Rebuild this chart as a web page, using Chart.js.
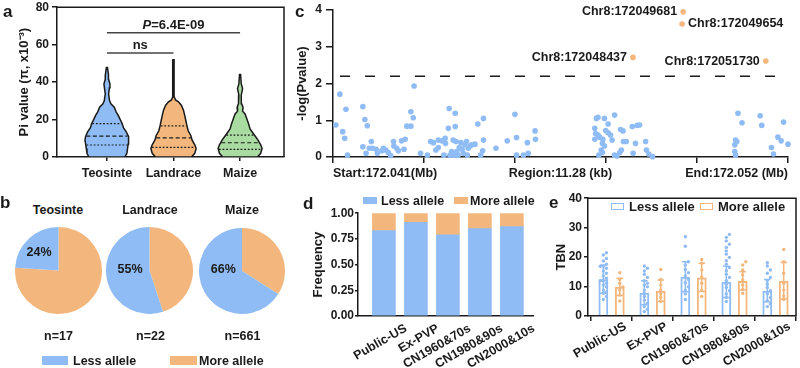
<!DOCTYPE html>
<html>
<head>
<meta charset="utf-8">
<script src="https://cdn.jsdelivr.net/npm/chart.js@4.4.1/dist/chart.umd.min.js"></script>
<style>
  body { margin: 0; width: 800px; height: 368px; overflow: hidden; position: relative; background: #fff;
         font-family: 'Liberation Sans', Arial, sans-serif; color: #1a1a1a; }
  .panel { position: absolute; }
  .txt { position: absolute; line-height: 1; font-weight: bold; white-space: nowrap; }
  .key { position: absolute; box-sizing: border-box; }
</style>
</head>
<body>
<div class="panel" style="left:0;top:-3px;width:292px;height:193px"><canvas id="violinChart"></canvas></div>
<div class="panel" style="left:286px;top:-2px;width:514px;height:192px"><canvas id="manhattanChart"></canvas></div>
<div class="panel" style="left:15px;top:227px;width:87px;height:87px"><canvas id="pie0"></canvas></div>
<div class="panel" style="left:106px;top:227px;width:87px;height:87px"><canvas id="pie1"></canvas></div>
<div class="panel" style="left:199px;top:228px;width:86px;height:86px"><canvas id="pie2"></canvas></div>
<div class="panel" style="left:292px;top:205px;width:246px;height:163px"><canvas id="freqChart"></canvas></div>
<div class="panel" style="left:540px;top:189px;width:260px;height:179px"><canvas id="tbnChart"></canvas></div>

<script>
// ---- panel a: Pi values (violins) ----
const groups = ['Teosinte', 'Landrace', 'Maize'];
const teosinteLevels = [0, 2, 4.6, 7, 9, 11, 13.4, 15.5, 17.8, 20, 22.2, 24, 26.6, 28.4, 30, 33.7, 37, 39, 41.5, 44, 47.8];
const teosinteWidth  = [0.27, 0.30, 0.31, 0.32, 0.33, 0.32, 0.29, 0.25, 0.23, 0.20, 0.17, 0.14, 0.11, 0.06, 0.04, 0.025, 0.038, 0.045, 0.025, 0.023, 0.008];
const landraceLevels = [0, 2, 4.5, 6.5, 9, 11.5, 14, 17, 19.5, 22, 25, 27.5, 29.5, 30.5, 32, 52];
const landraceWidth  = [0.27, 0.32, 0.34, 0.32, 0.28, 0.26, 0.22, 0.20, 0.185, 0.17, 0.15, 0.12, 0.075, 0.03, 0.012, 0.009];
const maizeLevels = [0, 2, 4.5, 6.5, 9, 11.5, 13.5, 15, 17.5, 20.5, 23, 24.5, 26.5, 28.5, 33, 36.5, 39, 44];
const maizeWidth  = [0.26, 0.31, 0.33, 0.31, 0.27, 0.22, 0.18, 0.15, 0.13, 0.10, 0.075, 0.038, 0.045, 0.023, 0.018, 0.038, 0.018, 0.008];
const quartiles = [[6.4, 11.1, 17.8], [5.1, 10.2, 16.6], [4.1, 7.6, 11.7]]; // Q1, median, Q3
const brackets = [[1, 2, 55.6, 'ns'], [1, 3, 66.3, 'P=6.4E-09']];

// ---- panel b: allele share ----
const lessPct = [24, 55, 66];
const sampleSizes = [17, 22, 661];

// ---- panel c: association scan ----
const regionStart = 172041000;
const regionKb = 11.28;
const threshold = 2.2;
const cTickLabels = ['Start:172.041(Mb)', 'Region:11.28 (kb)', 'End:172.052 (Mb)'];
const snpKb = [0.07, 0.17, 0.24, 0.29, 0.32, 0.36, 0.74, 0.74, 0.79, 0.82, 0.85, 0.90, 0.95, 0.98,
  1.07, 1.10, 1.21, 1.25, 1.31, 1.37, 1.43, 1.50, 1.51, 1.58, 1.62, 1.70, 1.76, 1.79, 1.83, 1.93, 1.93, 1.99,
  2.01, 2.17, 2.34, 2.42, 2.49, 2.55, 2.61, 2.61, 2.70, 2.75, 2.78, 2.79, 2.86, 2.88, 2.90, 2.94, 2.98,
  3.00, 3.03, 3.03, 3.05, 3.07, 3.10, 3.13, 3.17, 3.20, 3.23, 3.27, 3.31, 3.33, 3.35, 3.40, 3.44, 3.52, 3.59, 3.66, 3.71, 3.73, 3.73,
  4.04, 4.32, 4.51, 4.55, 4.55, 4.72, 4.82, 4.84, 5.01, 5.02,
  6.53, 6.57, 6.73, 6.98, 6.82, 6.49, 6.51, 6.57, 6.49, 6.61, 6.69, 6.76, 6.82, 6.88, 6.92, 6.68, 6.73, 6.65, 6.68, 6.59,
  6.98, 7.04, 7.11, 7.15, 7.13, 7.19, 7.20, 7.27, 7.42, 7.54, 7.60, 7.50, 7.44, 7.75, 7.77, 7.83, 7.92,
  10.04, 10.14, 9.98, 10.01, 9.96, 9.96, 9.98, 10.59, 10.63, 10.87, 10.92, 11.03, 11.11, 11.17, 11.28];
const snpLogP = [0.87, 1.71, 0.69, 0.51, 1.30, 0.05, 1.37, 0.28, 1.02, 0.10, 0.85, 0.24, 0.42, 0.24,
  0.21, 0.10, 0.17, 0.24, 0.19, 0.12, 0.04, 0.42, 0.30, 0.24, 0.17, 0.44, 0.21, 0.48, 0.84, 0.84, 1.23, 1.07,
  1.93, 0.10, 0.05, 0.42, 0.39, 0.19, 0.46, 0.26, 0.44, 0.05, 0.51, 0.37, 0.78, 1.32, 0.05, 0.15, 0.46,
  0.05, 1.19, 0.83, 0.42, 0.15, 0.05, 0.26, 0.39, 0.21, 0.10, 0.33, 0.42, 0.05, 0.24, 0.30, 0.33, 0.35, 0.90, 0.05, 0.17, 0.46, 1.05,
  0.24, 0.44, 1.16, 0.53, 0.05, 0.05, 0.39, 0.10, 0.71, 0.48,
  1.05, 1.08, 1.05, 1.14, 0.90, 0.78, 0.64, 0.60, 0.48, 0.54, 0.48, 0.72, 0.66, 0.60, 0.46, 0.37, 0.30, 0.19, 0.12, 0.05,
  0.05, 0.03, 0.12, 0.19, 0.75, 0.71, 0.42, 0.42, 0.83, 0.86, 0.87, 0.37, 0.10, 0.42, 0.19, 0.08, 0.01,
  1.19, 0.93, 0.46, 0.42, 0.33, 0.15, 0.05, 1.12, 0.86, 0.26, 0.08, 0.54, 0.44, 0.95, 0.35];
const hitPos = [172048437, 172049681, 172049654, 172051730];
const hitLogP = [2.71, 3.95, 3.62, 2.61];
const hitSide = ['left', 'left', 'right', 'left'];

// ---- panels d and e: cohorts ----
const cohorts = ['Public-US', 'Ex-PVP', 'CN1960&70s', 'CN1980&90s', 'CN2000&10s'];
const lessFreq = [0.83, 0.91, 0.79, 0.85, 0.87];
const moreFreq = [0.17, 0.09, 0.21, 0.15, 0.13];
const tbnLessMean = [12.5, 7.9, 13.3, 11.6, 8.6];
const tbnLessSD = [4.8, 4.1, 5.1, 5.3, 3.8];
const tbnMoreMean = [9.9, 8.6, 13.1, 11.9, 12.0];
const tbnMoreSD = [2.9, 3.6, 4.8, 3.1, 6.2];
const tbnLessDots = [
  [21.5, 20.7, 19.5, 18.7, 17.6, 16.9, 16.9, 16.2, 15.3, 14.5, 13.6, 12.8, 12.0, 12.0, 11.1, 10.5, 9.9, 8.8, 8.2, 7.7, 6.6, 5.6],
  [17, 16.2, 15.3, 14.2, 13.1, 12, 11.1, 10.5, 9.9, 8.8, 7.7, 6.6, 5.4, 4.3, 3.2, 2.3, 1.5],
  [26.9, 23.7, 18.4, 17.3, 15.8, 14.7, 13.6, 12.4, 11.3, 9.9, 8.8, 7.5, 5.6],
  [27.7, 26.7, 25.5, 24.4, 23.3, 22.1, 21, 19.9, 18.8, 17.6, 16.5, 15.4, 14.2, 13.1, 12, 10.8, 9.7, 8.6, 7.5, 6.3, 4.9],
  [18.1, 17, 15.6, 14.5, 13.1, 12, 10.8, 9.7, 8.6, 7.5, 6.3, 5.2, 4.1, 3.2]
];
const tbnMoreDots = [
  [14.7, 12.4, 11.1, 9.9, 8.8, 7.1, 5.1],
  [15.8, 12.4, 10.5, 8.8, 7.5, 6.3, 4.9],
  [19.2, 17.9, 15.6, 13.3, 11.1, 8.8, 6.6],
  [18.4, 17.3, 15.6, 13.9, 12.2, 10.5, 9.0, 7.7],
  [22.6, 18.4, 14.5, 11.1, 8.8, 6.8, 5.6]
];

const BLUE = '#8FBCF4', ORANGE = '#F3B77D', GREEN = '#A9DCA1', INK = '#1a1a1a';
const FONT = "'Liberation Sans', Arial, sans-serif";
const violinColors = [BLUE, ORANGE, GREEN];

Chart.defaults.font.family = FONT;
Chart.defaults.font.size = 12;
Chart.defaults.font.weight = 'bold';
Chart.defaults.color = INK;
Chart.defaults.animation = false;
Chart.defaults.plugins.legend.display = false;
Chart.defaults.plugins.tooltip.enabled = false;

const axisBorder = { color: INK, width: 1.5 };
const tickGrid = (len) => ({ drawOnChartArea: false, tickLength: len, color: INK, lineWidth: 1.5 });

// top and right sides of the plot box
const framePlugin = {
  id: 'frame',
  afterDraw(chart) {
    const { ctx, chartArea: a } = chart;
    ctx.save();
    ctx.strokeStyle = INK;
    ctx.lineWidth = 1.5;
    ctx.beginPath();
    ctx.moveTo(a.left, a.top);
    ctx.lineTo(a.right, a.top);
    ctx.lineTo(a.right, a.bottom);
    ctx.stroke();
    ctx.restore();
  }
};

function widthAt(levels, widths, v) {
  for (let i = 1; i < levels.length; i++) {
    if (v <= levels[i]) {
      const t = (v - levels[i - 1]) / (levels[i] - levels[i - 1]);
      return widths[i - 1] + t * (widths[i] - widths[i - 1]);
    }
  }
  return 0;
}

// ---- panel a ----
const profiles = [[teosinteLevels, teosinteWidth], [landraceLevels, landraceWidth], [maizeLevels, maizeWidth]];
const violinSets = [];
profiles.forEach(([levels, widths], g) => {
  const c = g + 1;
  const right = levels.map((y, i) => ({ x: c + widths[i], y }));
  const left = levels.map((y, i) => ({ x: c - widths[i], y })).reverse();
  violinSets.push({
    data: right.concat(left, [right[0]]),
    showLine: true, fill: 'shape', backgroundColor: violinColors[g],
    borderColor: INK, borderWidth: 1.5, pointRadius: 0, order: 2
  });
});
profiles.forEach(([levels, widths], g) => {
  quartiles[g].forEach((q, k) => {
    const w = widthAt(levels, widths, q) - 0.01;
    violinSets.push({
      data: [{ x: g + 1 - w, y: q }, { x: g + 1 + w, y: q }],
      showLine: true, borderColor: INK, borderWidth: 1.2, pointRadius: 0,
      borderDash: k === 1 ? [4, 2.5] : [1.8, 1.8], order: 1
    });
  });
});
brackets.forEach(([a, b, v]) => {
  violinSets.push({
    data: [{ x: a, y: v }, { x: b, y: v }],
    showLine: true, borderColor: '#444', borderWidth: 1.5, pointRadius: 0, order: 1
  });
});

const bracketText = {
  id: 'bracketText',
  afterDatasetsDraw(chart) {
    const { ctx, scales: { x, y } } = chart;
    ctx.save();
    ctx.fillStyle = INK;
    ctx.textBaseline = 'alphabetic';
    brackets.forEach(([a, b, v, label]) => {
      const cx = (x.getPixelForValue(a) + x.getPixelForValue(b)) / 2;
      const by = y.getPixelForValue(v) - 4;
      const italic = label.startsWith('P=') ? 'P' : '';
      const rest = label.slice(italic.length);
      ctx.font = `italic bold 13px ${FONT}`;
      const wi = italic ? ctx.measureText(italic).width : 0;
      ctx.font = `bold 13px ${FONT}`;
      const wr = ctx.measureText(rest).width;
      let sx = cx - (wi + wr) / 2;
      ctx.textAlign = 'left';
      if (italic) {
        ctx.font = `italic bold 13px ${FONT}`;
        ctx.fillText(italic, sx, by);
        sx += wi;
        ctx.font = `bold 13px ${FONT}`;
      }
      ctx.fillText(rest, sx, by);
    });
    ctx.restore();
  }
};

new Chart(document.getElementById('violinChart'), {
  type: 'scatter',
  data: { datasets: violinSets },
  plugins: [framePlugin, bracketText],
  options: {
    responsive: true, maintainAspectRatio: false,
    layout: { padding: { top: 8, right: 8, left: 0, bottom: 0 } },
    scales: {
      x: {
        type: 'linear', min: 0.25, max: 3.66,
        afterBuildTicks: s => { s.ticks = groups.map((g, i) => ({ value: i + 1 })); },
        ticks: { callback: v => groups[v - 1], font: { size: 12.5 }, padding: 5, maxRotation: 0 },
        grid: tickGrid(4), border: axisBorder,
        afterFit: s => { s.height = 33; }
      },
      y: {
        min: 0, max: 80,
        ticks: { stepSize: 20, padding: 3 },
        grid: tickGrid(5), border: axisBorder,
        title: { display: true, text: 'Pi value (π, x10⁻³)', font: { size: 13 }, padding: { top: 17, bottom: 0 } },
        afterFit: s => { s.width = 57; }
      }
    }
  }
});

// ---- panel c ----
const cTicks = [0, 1, 2, 3, 4, 5].map(i => i * regionKb / 5).concat([regionKb / 2]).sort((a, b) => a - b);
const cLabel = v => v === 0 ? cTickLabels[0] : (v === regionKb / 2 ? cTickLabels[1] : (v === regionKb ? cTickLabels[2] : ''));

const hitLabels = {
  id: 'hitLabels',
  afterDatasetsDraw(chart) {
    const { ctx } = chart;
    const meta = chart.getDatasetMeta(1);
    ctx.save();
    ctx.fillStyle = INK;
    ctx.font = `bold 12.5px ${FONT}`;
    ctx.textBaseline = 'middle';
    meta.data.forEach((pt, i) => {
      const label = 'Chr8:' + hitPos[i];
      if (hitSide[i] === 'left') { ctx.textAlign = 'right'; ctx.fillText(label, pt.x - 6, pt.y); }
      else { ctx.textAlign = 'left'; ctx.fillText(label, pt.x + 6, pt.y); }
    });
    ctx.restore();
  }
};

new Chart(document.getElementById('manhattanChart'), {
  type: 'scatter',
  data: {
    datasets: [
      { data: snpKb.map((x, i) => ({ x, y: snpLogP[i] })), backgroundColor: BLUE, pointRadius: 2.8, borderWidth: 0, clip: false },
      { data: hitPos.map((p, i) => ({ x: (p - regionStart) / 1000, y: hitLogP[i] })), backgroundColor: ORANGE, pointRadius: 2.8, borderWidth: 0, clip: false },
      { data: [{ x: 0, y: threshold }, { x: regionKb, y: threshold }], showLine: true, pointRadius: 0,
        borderColor: INK, borderWidth: 1.5, borderDash: [10, 15], borderDashOffset: 18 }
    ]
  },
  plugins: [hitLabels],
  options: {
    responsive: true, maintainAspectRatio: false,
    layout: { padding: { top: 12, right: 12, left: 0, bottom: 0 } },
    scales: {
      x: {
        type: 'linear', min: 0, max: regionKb,
        afterBuildTicks: s => { s.ticks = cTicks.map(v => ({ value: v })); },
        ticks: { autoSkip: false, maxRotation: 0, minRotation: 0, align: 'inner', padding: 3, font: { size: 12.5 }, callback: v => cLabel(v) },
        grid: { drawOnChartArea: false, tickLength: 6, lineWidth: 1.5, color: INK,
                tickColor: c => (c.tick && c.tick.value === regionKb / 2) ? 'rgba(0,0,0,0)' : INK },
        border: axisBorder,
        afterFit: s => { s.height = 33; }
      },
      y: {
        min: 0, max: 4,
        ticks: { stepSize: 1, padding: 4 },
        grid: tickGrid(7), border: axisBorder,
        title: { display: true, text: '-log(Pvalue)', font: { size: 13 }, padding: { top: 9, bottom: 0 } },
        afterFit: s => { s.width = 47; }
      }
    }
  }
});

// ---- panel b ----
groups.forEach((g, i) => {
  new Chart(document.getElementById('pie' + i), {
    type: 'pie',
    data: {
      labels: ['More allele', 'Less allele'],
      datasets: [{ data: [100 - lessPct[i], lessPct[i]], backgroundColor: [ORANGE, BLUE], borderWidth: 0 }]
    },
    options: { responsive: true, maintainAspectRatio: false, layout: { padding: 0 } }
  });
});

// ---- panel d ----
new Chart(document.getElementById('freqChart'), {
  type: 'bar',
  data: {
    datasets: [
      { label: 'Less allele', data: cohorts.map((c, i) => ({ x: i, y: lessFreq[i] })), backgroundColor: BLUE, barThickness: 23 },
      { label: 'More allele', data: cohorts.map((c, i) => ({ x: i, y: moreFreq[i] })), backgroundColor: ORANGE, barThickness: 23 }
    ]
  },
  options: {
    responsive: true, maintainAspectRatio: false,
    layout: { padding: { top: 8, right: 5, left: 0, bottom: 0 } },
    scales: {
      x: {
        type: 'linear', stacked: true, offset: false, min: -0.81, max: 4.66,
        afterBuildTicks: s => { s.ticks = cohorts.map((c, i) => ({ value: i })); },
        ticks: { callback: v => cohorts[v], minRotation: 30, maxRotation: 30, autoSkip: false, padding: -3, labelOffset: 22, font: { size: 12.5 } },
        grid: { display: false }, border: axisBorder,
        afterFit: s => { s.height = 52; }
      },
      y: {
        stacked: true, min: 0, max: 1,
        ticks: { stepSize: 0.25, padding: 1, callback: v => v.toFixed(2) },
        grid: tickGrid(3), border: axisBorder,
        title: { display: true, text: 'Frequency', font: { size: 13 }, padding: { top: 19, bottom: 0 } },
        afterFit: s => { s.width = 66; }
      }
    }
  }
});

// ---- panel e ----
const groupShift = 0.2; // bar centre offset inside a cohort (categoryPercentage 0.8, two bars)
function swarm(values, cx) {
  const placed = [];
  values.slice().sort((a, b) => a - b).forEach(v => {
    for (const k of [0, 1, -1, 2, -2, 3, -3]) {
      const x = cx + k * 0.075;
      if (!placed.some(p => Math.abs(p.x - x) < 0.07 && Math.abs(p.y - v) < 1.1)) { placed.push({ x, y: v }); break; }
    }
  });
  return placed;
}
function errorBars(means, sds, shift) {
  const pts = [];
  means.forEach((m, i) => {
    const x = i + shift, lo = m - sds[i], hi = m + sds[i];
    pts.push({ x, y: lo }, { x, y: hi }, { x: null, y: null },
             { x: x - 0.08, y: hi }, { x: x + 0.08, y: hi }, { x: null, y: null },
             { x: x - 0.08, y: lo }, { x: x + 0.08, y: lo }, { x: null, y: null });
  });
  return pts;
}

new Chart(document.getElementById('tbnChart'), {
  type: 'bar',
  data: {
    datasets: [
      { type: 'bar', label: 'Less allele', data: cohorts.map((c, i) => ({ x: i, y: tbnLessMean[i] })),
        backgroundColor: 'rgba(255,255,255,0)', borderColor: BLUE, borderWidth: 2, categoryPercentage: 0.8, barPercentage: 0.6, order: 3 },
      { type: 'bar', label: 'More allele', data: cohorts.map((c, i) => ({ x: i, y: tbnMoreMean[i] })),
        backgroundColor: 'rgba(255,255,255,0)', borderColor: ORANGE, borderWidth: 2, categoryPercentage: 0.8, barPercentage: 0.6, order: 3 },
      { type: 'line', data: errorBars(tbnLessMean, tbnLessSD, -groupShift), borderColor: BLUE, borderWidth: 1.5, pointRadius: 0, spanGaps: false, order: 2 },
      { type: 'line', data: errorBars(tbnMoreMean, tbnMoreSD, groupShift), borderColor: ORANGE, borderWidth: 1.5, pointRadius: 0, spanGaps: false, order: 2 },
      { type: 'scatter', data: tbnLessDots.flatMap((vals, i) => swarm(vals, i - groupShift)), backgroundColor: BLUE, pointRadius: 1.7, borderWidth: 0, order: 1 },
      { type: 'scatter', data: tbnMoreDots.flatMap((vals, i) => swarm(vals, i + groupShift)), backgroundColor: ORANGE, pointRadius: 1.7, borderWidth: 0, order: 1 }
    ]
  },
  plugins: [framePlugin],
  options: {
    responsive: true, maintainAspectRatio: false,
    layout: { padding: { top: 8, right: 2, left: 0, bottom: 0 } },
    scales: {
      x: {
        type: 'linear', offset: false, min: -0.575, max: 4.5,
        afterBuildTicks: s => { s.ticks = cohorts.map((c, i) => ({ value: i })); },
        ticks: { callback: v => cohorts[v], minRotation: 30, maxRotation: 30, autoSkip: false, padding: -2, labelOffset: 14, font: { size: 12.5 } },
        grid: tickGrid(5), border: axisBorder,
        afterFit: s => { s.height = 52; }
      },
      y: {
        min: 0, max: 40,
        ticks: { stepSize: 10, padding: 2 },
        grid: tickGrid(4), border: axisBorder,
        title: { display: true, text: 'TBN', font: { size: 13 }, padding: { top: 14, bottom: 0 } },
        afterFit: s => { s.width = 48; }
      }
    }
  }
});

// ---- text and legends ----
function put(text, x, y, size, align) {
  const el = document.createElement('div');
  el.className = 'txt';
  el.textContent = text;
  el.style.left = x + 'px';
  el.style.top = y + 'px';
  el.style.fontSize = size + 'px';
  el.style.transform = align === 'left' ? 'translate(0,-50%)' : 'translate(-50%,-50%)';
  document.body.appendChild(el);
}
function key(x, y, w, h, color, hollow) {
  const el = document.createElement('div');
  el.className = 'key';
  Object.assign(el.style, { left: x + 'px', top: y + 'px', width: w + 'px', height: h + 'px' });
  if (hollow) el.style.border = '1.5px solid ' + color; else el.style.background = color;
  document.body.appendChild(el);
}

put('a', 3, 10.5, 17, 'left');
put('b', 0, 201.5, 17, 'left');
put('c', 295, 10.5, 17, 'left');
put('d', 303, 202.5, 17, 'left');
put('e', 549, 201.5, 17, 'left');

const pieX = [58, 150, 242];
const pctPos = [[39, 251.7], [130, 268.8], [223.3, 268.8]];
groups.forEach((g, i) => {
  put(g, pieX[i], 210, 12.5);
  put(lessPct[i] + '%', pctPos[i][0], pctPos[i][1], 12.5);
  put('n=' + sampleSizes[i], pieX[i] + 0.5, 336.3, 12.5);
});

key(42, 356, 26, 9, BLUE);
put('Less allele', 73, 360.8, 12.5, 'left');
key(170, 356, 27, 9, ORANGE);
put('More allele', 199, 360.8, 12.5, 'left');

key(363, 197, 14, 7, BLUE);
put('Less allele', 381, 200.5, 12.5, 'left');
key(454, 197, 14, 7, ORANGE);
put('More allele', 470, 200.5, 12.5, 'left');

key(611, 202.5, 13, 7.5, BLUE, true);
put('Less allele', 629, 206.3, 13, 'left');
key(700, 202.5, 13, 7.5, ORANGE, true);
put('More allele', 718, 206.3, 13, 'left');
</script>
</body>
</html>
